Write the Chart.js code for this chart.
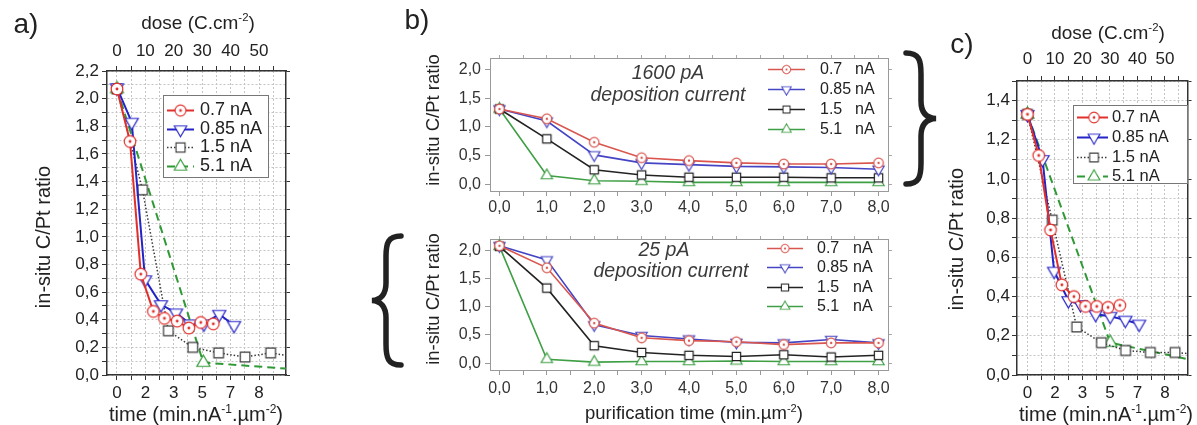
<!DOCTYPE html>
<html>
<head>
<meta charset="utf-8">
<script src="https://cdn.jsdelivr.net/npm/chart.js@4.4.0/dist/chart.umd.min.js"></script>
<style>
body { margin: 0; background: #fff; width: 1197px; height: 425px; overflow: hidden; position: relative;
       font-family: 'Liberation Sans', Arial, sans-serif; color: #222; }
canvas { position: absolute; }
svg { position: absolute; left: 0; top: 0; }
.t { position: absolute; transform: translate(-50%, -50%); white-space: nowrap; line-height: 1; }
.rot { transform: translate(-50%, -50%) rotate(-90deg); }
.it { font-style: italic; color: #3a3a3a; }
sup { font-size: 0.6em; vertical-align: 0.65em; line-height: 0; }
</style>
</head>
<body>
<canvas id="chartA" width="300" height="425" style="left:0;top:0"></canvas>
<canvas id="chartB1" width="515" height="180" style="left:385px;top:40px"></canvas>
<canvas id="chartB2" width="515" height="205" style="left:385px;top:220px"></canvas>
<canvas id="chartC" width="297" height="425" style="left:900px;top:0"></canvas>

<svg width="1197" height="425">
  <path d="M906,53 C919,53 921,60 921,74 L921,101 C921,112 926,118 936,118.5 C926,119 921,125 921,136 L921,163 C921,177 919,184 906,184"
        fill="none" stroke="#222" stroke-width="5.5" stroke-linecap="round"/>
  <path d="M401,236 C388,236 386,243 386,257 L386,283 C386,294 381,300 372,300.5 C381,301 386,307 386,318 L386,344 C386,358 388,365 401,365"
        fill="none" stroke="#222" stroke-width="5.5" stroke-linecap="round"/>
</svg>

<div class="t" style="left:26px;top:24px;font-size:28px">a)</div>
<div class="t" style="left:417px;top:20px;font-size:28px">b)</div>
<div class="t" style="left:962px;top:44px;font-size:28px">c)</div>

<div class="t" style="left:198px;top:22px;font-size:19px">dose (C.cm<sup>-2</sup>)</div>
<div class="t" style="left:196px;top:414px;font-size:20px">time (min.nA<sup>-1</sup>.&micro;m<sup>-2</sup>)</div>
<div class="t rot" style="left:43px;top:237px;font-size:20px">in-situ C/Pt ratio</div>

<div class="t" style="left:1108px;top:32px;font-size:19px">dose (C.cm<sup>-2</sup>)</div>
<div class="t" style="left:1106px;top:414px;font-size:20px">time (min.nA<sup>-1</sup>.&micro;m<sup>-2</sup>)</div>
<div class="t rot" style="left:956px;top:239px;font-size:20px">in-situ C/Pt ratio</div>

<div class="t rot" style="left:433px;top:120px;font-size:18.5px">in-situ C/Pt ratio</div>
<div class="t rot" style="left:433px;top:299px;font-size:18.5px">in-situ C/Pt ratio</div>
<div class="t" style="left:694px;top:413px;font-size:18.5px">purification time (min.&micro;m<sup>-2</sup>)</div>

<div class="t it" style="left:668px;top:73px;font-size:19.5px">1600 pA</div>
<div class="t it" style="left:668px;top:95px;font-size:19.5px">deposition current</div>
<div class="t it" style="left:664px;top:250px;font-size:19.5px">25 pA</div>
<div class="t it" style="left:671px;top:271px;font-size:19.5px">deposition current</div>

<script>
// ----- panel a : 25 pA deposits, ratio vs dose -----
const doseRedA = [0, 4.6, 8.4, 12.8, 16.7, 21.2, 25.3, 29.5, 33.9];
const ratioRedA = [2.07, 1.69, 0.73, 0.46, 0.41, 0.39, 0.34, 0.38, 0.37];
const doseBlueA = [0, 5.2, 9.9, 15.5, 20.8, 25.7, 30.6, 36.0, 41.2];
const ratioBlueA = [2.08, 1.83, 0.69, 0.51, 0.45, 0.37, 0.37, 0.44, 0.36];
const doseBlackA = [0, 9.0, 18.1, 26.7, 35.8, 45.1, 54.1, 63];
const ratioBlackA = [2.07, 1.34, 0.32, 0.20, 0.16, 0.13, 0.16, 0.13];
const doseGreenA = [0, 30.4, 64];
const ratioGreenA = [2.07, 0.09, 0.04];

// ----- panel c : 1600 pA deposits, ratio vs dose -----
const doseRedC = [0, 4.1, 8.4, 12.5, 16.9, 21.1, 25.2, 29.3, 33.6];
const ratioRedC = [1.33, 1.12, 0.74, 0.46, 0.40, 0.35, 0.35, 0.345, 0.355];
const doseBlueC = [0, 5.5, 9.7, 14.9, 19.3, 24.8, 30.1, 35.6, 40.6];
const ratioBlueC = [1.33, 1.10, 0.53, 0.38, 0.36, 0.31, 0.30, 0.28, 0.26];
const doseBlackC = [0, 9.0, 17.9, 26.9, 35.7, 44.7, 53.7, 62];
const ratioBlackC = [1.33, 0.79, 0.245, 0.165, 0.125, 0.115, 0.115, 0.105];
const doseGreenC = [0, 30.1, 62];
const ratioGreenC = [1.33, 0.165, 0.07];

// ----- panel b : ratio vs purification time -----
const purifTime = [0, 1, 2, 3, 4, 5, 6, 7, 8];
const red1600 = [1.31, 1.14, 0.73, 0.46, 0.41, 0.37, 0.35, 0.35, 0.37];
const blue1600 = [1.31, 1.10, 0.51, 0.37, 0.34, 0.31, 0.30, 0.29, 0.26];
const black1600 = [1.31, 0.79, 0.25, 0.16, 0.12, 0.12, 0.12, 0.11, 0.11];
const green1600 = [1.31, 0.15, 0.06, 0.05, 0.03, 0.03, 0.03, 0.03, 0.03];
const red25 = [2.08, 1.69, 0.71, 0.45, 0.40, 0.38, 0.33, 0.36, 0.36];
const blue25 = [2.08, 1.83, 0.68, 0.49, 0.43, 0.37, 0.36, 0.42, 0.36];
const black25 = [2.07, 1.33, 0.31, 0.19, 0.14, 0.12, 0.15, 0.11, 0.14];
const green25 = [2.07, 0.07, 0.02, 0.03, 0.03, 0.04, 0.03, 0.03, 0.03];

// tick labels
const doseTickLabels = ['0', '10', '20', '30', '40', '50'];
const timeTickLabels = ['0', '2', '3', '5', '7', '8'];
const legendNames = ['0.7', '0.85', '1.5', '5.1'];

Chart.defaults.font.family = "'Liberation Sans', Arial, sans-serif";
Chart.defaults.color = '#222';

// open marker drawn on a small canvas (white inside, coloured edge)
function marker(kind, color, r, lw) {
    const pad = Math.ceil(lw) + 1;
    const size = Math.ceil(2 * r) + 2 * pad;
    const c = document.createElement('canvas');
    c.width = c.height = size;
    const g = c.getContext('2d');
    const m = size / 2;
    g.lineWidth = lw;
    g.strokeStyle = color;
    g.fillStyle = '#fff';
    g.beginPath();
    if (kind === 'circle') {
        g.arc(m, m, r, 0, Math.PI * 2);
    } else if (kind === 'square') {
        g.rect(m - r * 0.8, m - r * 0.8, r * 1.6, r * 1.6);
    } else {
        const s = kind === 'down' ? -1 : 1;
        g.moveTo(m, m - s * r);
        g.lineTo(m + r * 0.866, m + s * r * 0.5);
        g.lineTo(m - r * 0.866, m + s * r * 0.5);
        g.closePath();
    }
    g.fill();
    g.stroke();
    if (kind === 'circle') {
        g.fillStyle = color;
        g.beginPath();
        g.arc(m, m, Math.max(1, r * 0.25), 0, Math.PI * 2);
        g.fill();
    }
    return c;
}

function series(xs, ys, color, kind, r, width, dash) {
    return {
        data: xs.map((x, i) => ({ x: x, y: ys[i] })),
        borderColor: color,
        borderWidth: width,
        borderDash: dash,
        pointStyle: marker(kind, color, r, 1.2),
        pointRadius: r,
        tension: 0,
        fill: false
    };
}

// legend with line + marker + label, drawn on the canvas
const seriesLegend = {
    id: 'seriesLegend',
    afterDraw(chart, args, o) {
        if (!o || !o.y0) return;
        const ctx = chart.ctx;
        ctx.save();
        if (o.box) {
            ctx.fillStyle = '#fff';
            ctx.strokeStyle = '#777';
            ctx.lineWidth = 1;
            ctx.fillRect(o.box[0] + 0.5, o.box[1] + 0.5, o.box[2], o.box[3]);
            ctx.strokeRect(o.box[0] + 0.5, o.box[1] + 0.5, o.box[2], o.box[3]);
        }
        chart.data.datasets.forEach((ds, i) => {
            const y = Math.round(o.y0 + i * o.dy) + 0.5;
            ctx.strokeStyle = ds.borderColor;
            ctx.lineWidth = ds.borderWidth;
            ctx.setLineDash(ds.borderDash || []);
            ctx.beginPath();
            ctx.moveTo(o.x1, y);
            ctx.lineTo(o.x2, y);
            ctx.stroke();
            ctx.setLineDash([]);
            const img = ds.pointStyle;
            const w = img.width * o.ms;
            ctx.drawImage(img, o.mx - w / 2, y - w / 2, w, w);
            ctx.fillStyle = '#222';
            ctx.font = o.size + "px 'Liberation Sans', Arial, sans-serif";
            ctx.textBaseline = 'middle';
            ctx.textAlign = 'left';
            if (o.nx) {
                ctx.fillText(legendNames[i], o.tx, y);
                ctx.fillText('nA', o.nx, y);
            } else {
                ctx.fillText(legendNames[i] + ' nA', o.tx, y);
            }
        });
        ctx.restore();
    }
};

function dosePanel(id, cfg) {
    const frame = { display: true, color: '#333', width: 1.5 };
    const fixed = (v) => (s) => { if (s.isHorizontal()) s.height = v; else s.width = v; };
    return new Chart(document.getElementById(id), {
        type: 'line',
        data: { datasets: cfg.datasets },
        options: {
            responsive: false,
            animation: false,
            events: [],
            layout: { padding: 0 },
            plugins: { legend: { display: false }, tooltip: { enabled: false }, seriesLegend: cfg.legend },
            scales: {
                x: {
                    type: 'linear', position: 'bottom', min: cfg.xMin, max: cfg.xMax,
                    grid: { color: '#c4c4c4', tickLength: 5, tickColor: '#333' },
                    border: Object.assign({ dash: [2, 2] }, frame),
                    ticks: {
                        stepSize: 5, includeBounds: false, autoSkip: false, maxRotation: 0, padding: 3,
                        font: { size: 17 }, color: '#222',
                        callback: (v) => (v % 10 === 0 && v / 10 < timeTickLabels.length) ? timeTickLabels[v / 10] : ''
                    },
                    afterFit: fixed(cfg.bottom)
                },
                x2: {
                    type: 'linear', position: 'top', min: cfg.xMin, max: cfg.xMax,
                    grid: { drawOnChartArea: false, tickLength: 5, tickColor: '#333' },
                    border: frame,
                    ticks: {
                        stepSize: 5, includeBounds: false, autoSkip: false, maxRotation: 0, padding: cfg.topPad,
                        font: { size: 17 }, color: '#222',
                        callback: (v) => (v % 10 === 0 && v / 10 < doseTickLabels.length) ? doseTickLabels[v / 10] : ''
                    },
                    afterFit: fixed(cfg.top)
                },
                y: {
                    type: 'linear', position: 'left', min: 0, max: cfg.yMax,
                    grid: { color: '#c4c4c4', tickLength: 5, tickColor: '#333' },
                    border: Object.assign({ dash: [2, 2] }, frame),
                    ticks: {
                        stepSize: 0.1, autoSkip: false, padding: cfg.yPad, font: { size: 17 }, color: '#222',
                        callback: (v) => Math.round(v * 10) % 2 === 0 ? v.toFixed(1).replace('.', ',') : ''
                    },
                    afterFit: fixed(cfg.left)
                },
                y2: {
                    type: 'linear', position: 'right', min: 0, max: cfg.yMax,
                    grid: { drawOnChartArea: false, tickLength: 4, tickColor: '#333' },
                    border: frame,
                    ticks: { stepSize: 0.2, display: false },
                    afterFit: fixed(cfg.right)
                }
            }
        },
        plugins: [seriesLegend]
    });
}

function timePanel(id, cfg) {
    const frame = { display: true, color: '#9a9a9a', width: 1 };
    const fixed = (v) => (s) => { if (s.isHorizontal()) s.height = v; else s.width = v; };
    const comma = (v) => v.toFixed(1).replace('.', ',');
    return new Chart(document.getElementById(id), {
        type: 'line',
        data: { datasets: cfg.datasets },
        options: {
            responsive: false,
            animation: false,
            events: [],
            layout: { padding: 0 },
            plugins: { legend: { display: false }, tooltip: { enabled: false }, seriesLegend: cfg.legend },
            scales: {
                x: {
                    type: 'linear', position: 'bottom', min: -0.2, max: 8.2,
                    grid: { drawOnChartArea: false, tickLength: 5, tickColor: '#999' },
                    border: frame,
                    ticks: {
                        stepSize: 0.5, includeBounds: false, autoSkip: false, maxRotation: 0, padding: cfg.xPad,
                        font: { size: 16 }, color: '#333',
                        callback: (v) => Number.isInteger(v) ? comma(v) : ''
                    },
                    afterFit: fixed(cfg.bottom)
                },
                x2: {
                    type: 'linear', position: 'top', min: -0.2, max: 8.2,
                    grid: { drawOnChartArea: false, tickLength: 3, tickColor: '#aaa' },
                    border: frame,
                    ticks: { stepSize: 0.5, includeBounds: false, display: false },
                    afterFit: fixed(cfg.top)
                },
                y: {
                    type: 'linear', position: 'left', min: -0.12, max: 2.2,
                    grid: { drawOnChartArea: false, tickLength: 5, tickColor: '#999' },
                    border: frame,
                    ticks: {
                        stepSize: 0.5, includeBounds: false, autoSkip: false, padding: 4,
                        font: { size: 16 }, color: '#333', callback: comma
                    },
                    afterFit: fixed(105)
                },
                y2: {
                    type: 'linear', position: 'right', min: -0.12, max: 2.2,
                    grid: { drawOnChartArea: false, tickLength: 4, tickColor: '#aaa' },
                    border: frame,
                    ticks: { stepSize: 0.5, includeBounds: false, display: false },
                    afterFit: fixed(12)
                }
            }
        },
        plugins: [seriesLegend]
    });
}

const RED = '#e0302c', BLUE = '#2323c8', BLACK = '#3a3a3a', GREEN = '#2f9a35';
const RED_B = '#d9564f', BLUE_B = '#4444c4', BLACK_B = '#222', GREEN_B = '#3f9f45';

dosePanel('chartA', {
    xMin: -3.5, xMax: 59.5, yMax: 2.2,
    left: 107, right: 14, top: 71, bottom: 50, topPad: 4, yPad: 3,
    datasets: [
        series(doseRedA, ratioRedA, RED, 'circle', 5.8, 2, []),
        series(doseBlueA, ratioBlueA, BLUE, 'down', 7.5, 2, []),
        series(doseBlackA, ratioBlackA, BLACK, 'square', 6, 1.5, [1.5, 2]),
        series(doseGreenA, ratioGreenA, GREEN, 'up', 7.5, 2, [8, 5])
    ],
    legend: { box: [163, 95, 105, 82], x1: 167, x2: 194, mx: 180.5, tx: 200, y0: 110, dy: 18.5, size: 18, ms: 0.95 }
});

dosePanel('chartC', {
    xMin: -3.8, xMax: 58.2, yMax: 1.5,
    left: 117, right: 4, top: 81, bottom: 50, topPad: 6, yPad: 2,
    datasets: [
        series(doseRedC, ratioRedC, RED, 'circle', 5.8, 2, []),
        series(doseBlueC, ratioBlueC, BLUE, 'down', 7.5, 2, []),
        series(doseBlackC, ratioBlackC, BLACK, 'square', 6, 1.5, [1.5, 2]),
        series(doseGreenC, ratioGreenC, GREEN, 'up', 7.5, 2, [8, 5])
    ],
    legend: { box: [173, 105, 114, 78], x1: 177, x2: 208, mx: 194, tx: 212, y0: 117, dy: 19.8, size: 16.5, ms: 0.9 }
});

timePanel('chartB1', {
    top: 18, bottom: 29, xPad: 2,
    datasets: [
        series(purifTime, red1600, RED_B, 'circle', 4.8, 1.6, []),
        series(purifTime, blue1600, BLUE_B, 'down', 6.5, 1.6, []),
        series(purifTime, black1600, BLACK_B, 'square', 5.2, 1.6, []),
        series(purifTime, green1600, GREEN_B, 'up', 6.5, 1.6, [])
    ],
    legend: { x1: 383, x2: 420, mx: 401.5, tx: 435, nx: 470, y0: 28.5, dy: 20, size: 16, ms: 0.85 }
});

timePanel('chartB2', {
    top: 19, bottom: 55, xPad: 4,
    datasets: [
        series(purifTime, red25, RED_B, 'circle', 4.8, 1.6, []),
        series(purifTime, blue25, BLUE_B, 'down', 6.5, 1.6, []),
        series(purifTime, black25, BLACK_B, 'square', 5.2, 1.6, []),
        series(purifTime, green25, GREEN_B, 'up', 6.5, 1.6, [])
    ],
    legend: { x1: 382, x2: 418, mx: 400, tx: 432, nx: 468, y0: 28, dy: 19.4, size: 16, ms: 0.85 }
});
</script>
</body>
</html>
